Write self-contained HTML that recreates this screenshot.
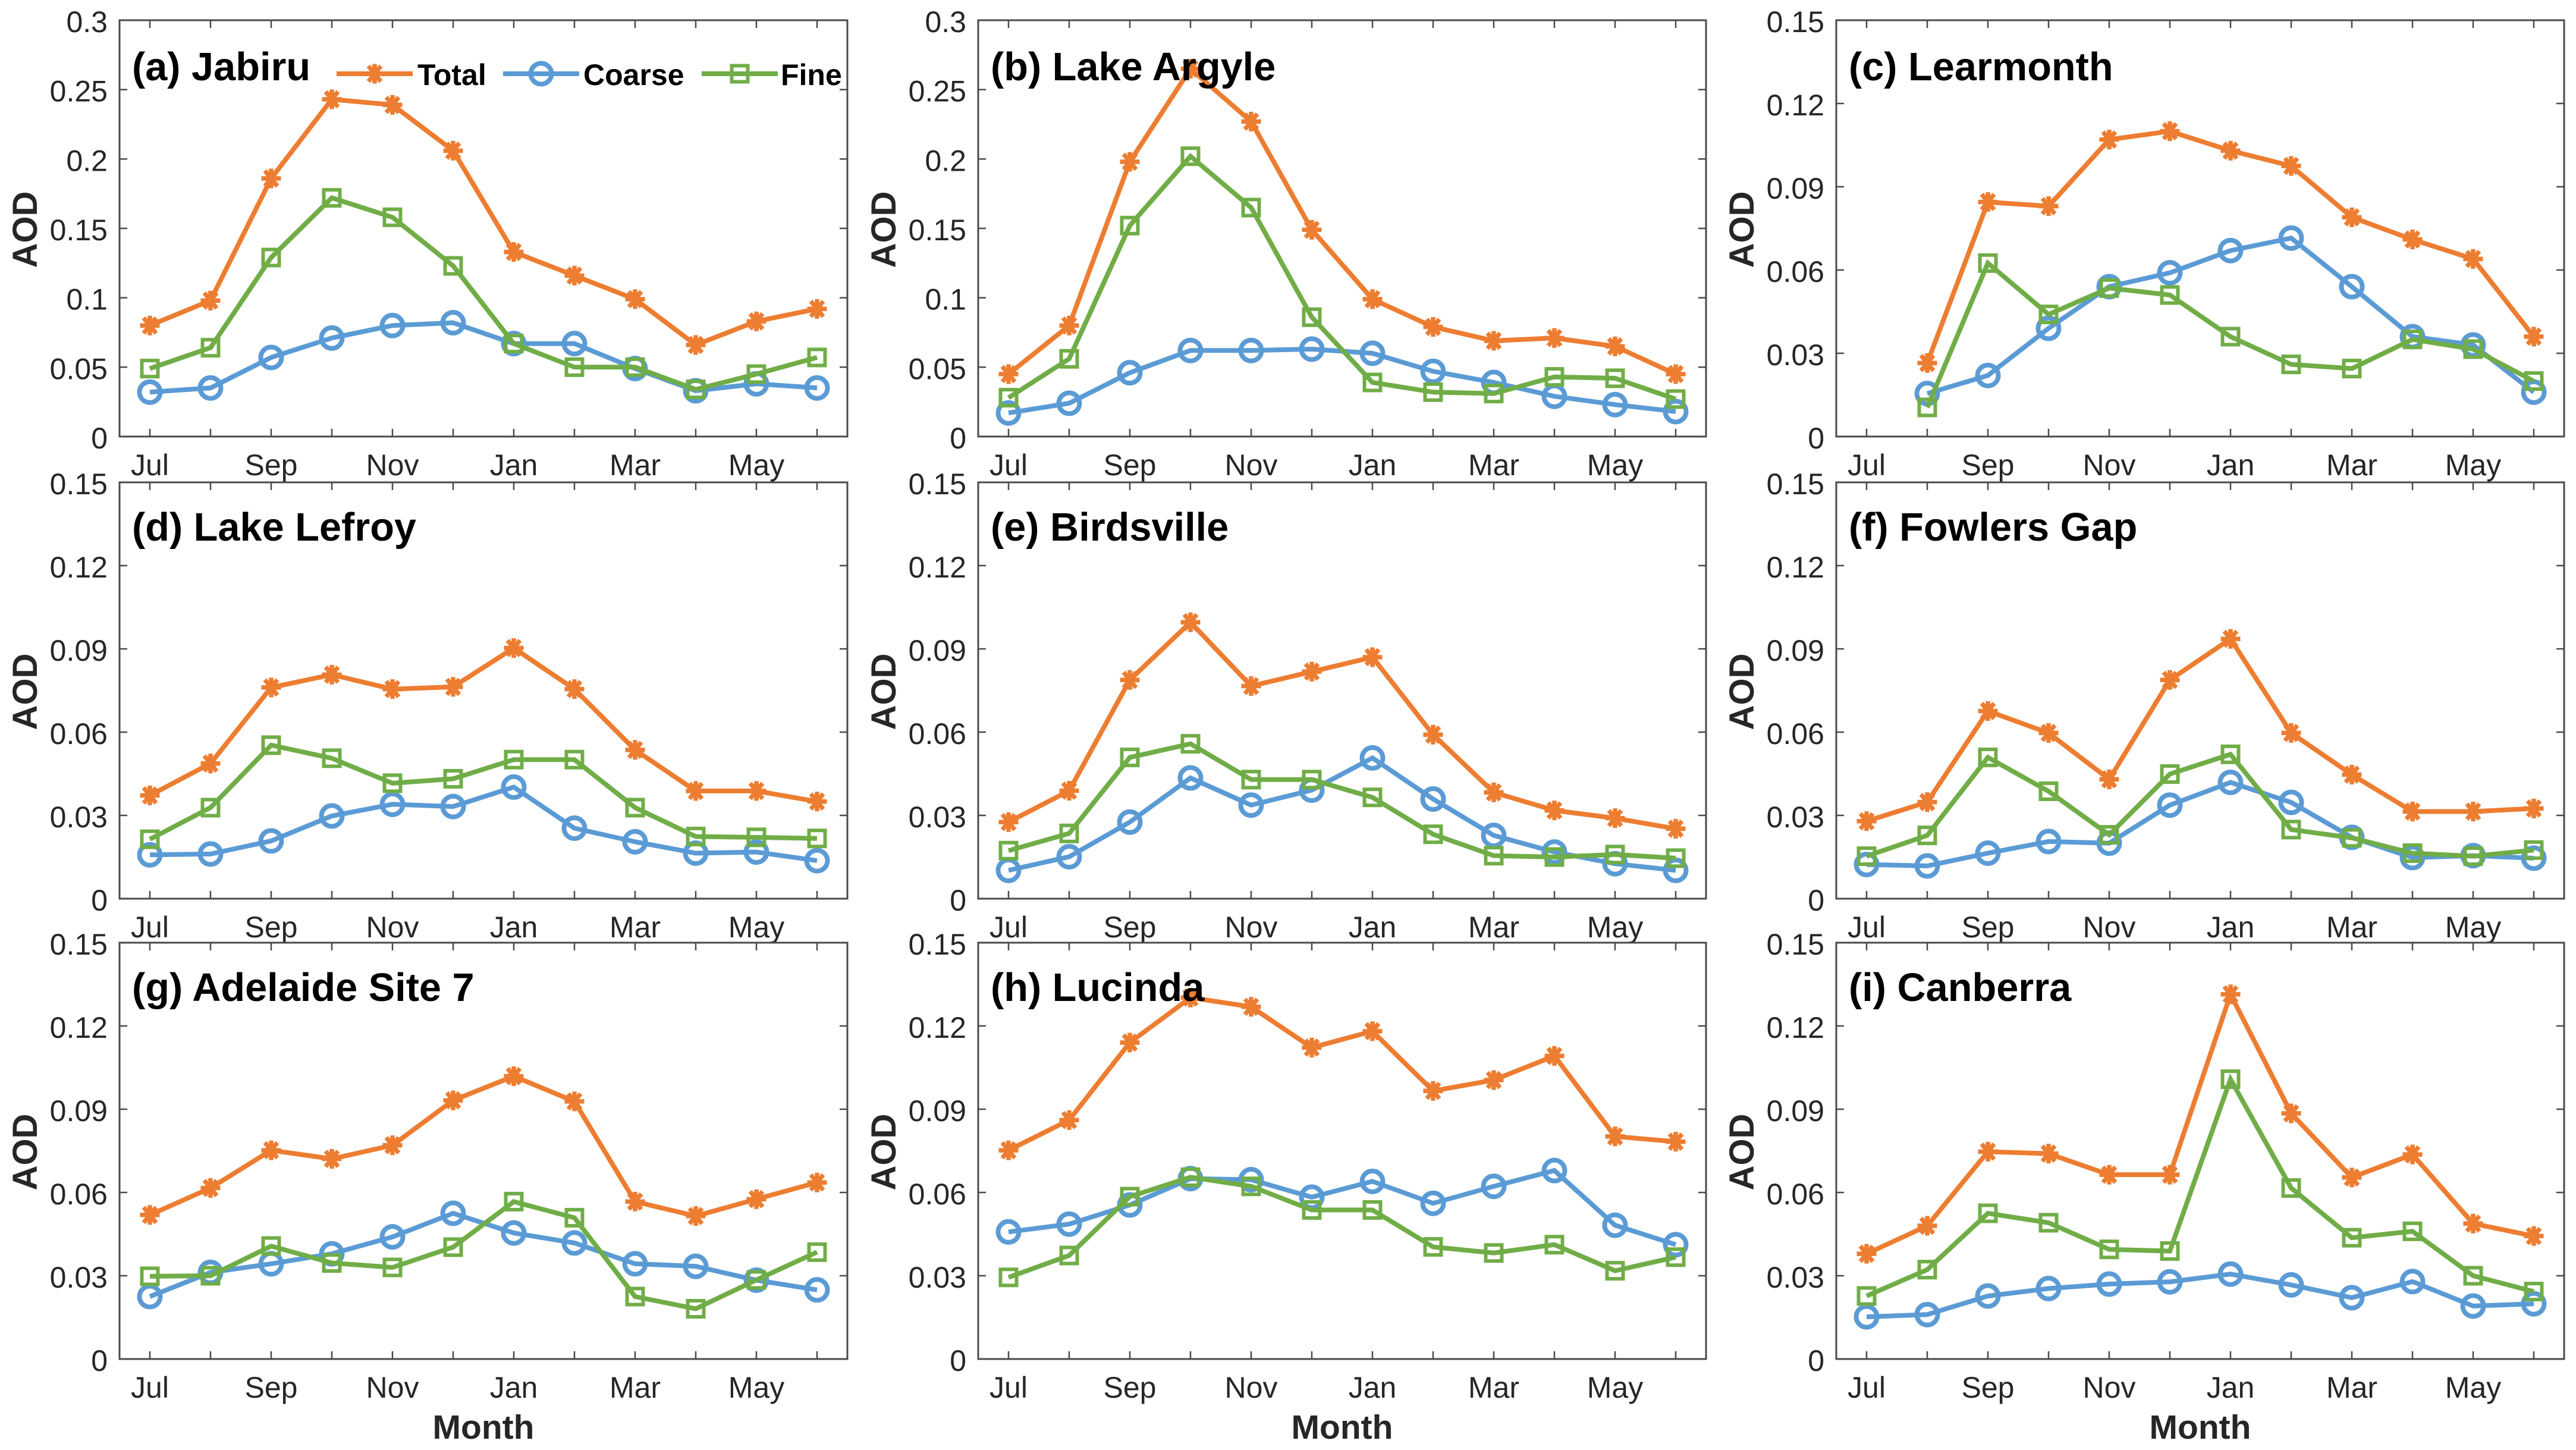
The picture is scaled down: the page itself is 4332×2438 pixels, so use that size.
<!DOCTYPE html>
<html lang="en">
<head>
<meta charset="utf-8">
<title>Monthly AOD at nine Australian sites</title>
<style>
html,body{margin:0;padding:0;background:#fff;}
svg{display:block;}
text{font-family:"Liberation Sans",Arial,sans-serif;}
</style>
</head>
<body>
<svg id="figure" xmlns="http://www.w3.org/2000/svg" width="4332" height="2438" viewBox="0 0 4332 2438">
<rect x="0" y="0" width="4332" height="2438" fill="#ffffff"/>
</svg>
<script>
var months = ['Jul','Aug','Sep','Oct','Nov','Dec','Jan','Feb','Mar','Apr','May','Jun'];
var monthLabels = ['Jul','','Sep','','Nov','','Jan','','Mar','','May',''];
var ticksWide = [0,0.05,0.1,0.15,0.2,0.25,0.3];
var tickLabelsWide = ['0','0.05','0.1','0.15','0.2','0.25','0.3'];
var ticksNarrow = [0,0.03,0.06,0.09,0.12,0.15];
var tickLabelsNarrow = ['0','0.03','0.06','0.09','0.12','0.15'];

var jabiruTotal = [.080,.098,.186,.243,.239,.206,.133,.116,.099,.066,.083,.092];
var jabiruCoarse = [.032,.035,.057,.071,.080,.082,.067,.067,.049,.033,.038,.035];
var jabiruFine = [.049,.064,.129,.172,.158,.123,.067,.050,.050,.034,.045,.057];

var argyleTotal = [.045,.080,.198,.265,.227,.149,.099,.079,.069,.071,.065,.045];
var argyleCoarse = [.017,.024,.046,.062,.062,.063,.060,.047,.039,.029,.023,.018];
var argyleFine = [.028,.056,.152,.202,.165,.086,.039,.032,.031,.043,.042,.027];

var learmonthTotal = [null,.0265,.0845,.083,.107,.110,.103,.0975,.079,.071,.064,.036];
var learmonthCoarse = [null,.0155,.022,.039,.054,.059,.067,.0715,.054,.036,.033,.016];
var learmonthFine = [null,.0105,.0625,.044,.0535,.051,.036,.026,.0245,.035,.0315,.020];

var lefroyTotal = [.0372,.0487,.0761,.0807,.0755,.0763,.0903,.0755,.0536,.0388,.0388,.035];
var lefroyCoarse = [.0158,.0161,.0208,.0298,.034,.0332,.0402,.0254,.0205,.0164,.0168,.0137];
var lefroyFine = [.0214,.0328,.0553,.0506,.0416,.0432,.0501,.0501,.0328,.0224,.0221,.0217];

var birdsvilleTotal = [.0276,.0389,.0788,.0996,.0766,.0818,.087,.0591,.0383,.0318,.029,.0252];
var birdsvilleCoarse = [.0102,.0151,.0276,.0435,.0337,.0391,.0507,.0359,.0228,.0168,.0126,.0102];
var birdsvilleFine = [.0173,.0235,.0509,.0558,.0429,.0429,.0365,.0232,.0155,.015,.0159,.0146];

var fowlersTotal = [.0279,.0348,.0676,.0597,.043,.0788,.0936,.0597,.0447,.0314,.0314,.0325];
var fowlersCoarse = [.0123,.0118,.0164,.0206,.02,.0337,.0419,.0347,.0221,.0148,.0155,.0146];
var fowlersFine = [.0153,.0228,.0509,.0387,.023,.0449,.052,.0249,.0219,.0164,.0153,.0175];

var adelaideTotal = [.0519,.0616,.0752,.0721,.077,.0932,.1019,.0928,.0567,.0515,.0576,.0636];
var adelaideCoarse = [.0225,.0312,.0343,.0379,.044,.0525,.0454,.0418,.0343,.0334,.0284,.0249];
var adelaideFine = [.0298,.03,.0407,.0346,.033,.0403,.0567,.0509,.0225,.0181,.0285,.0385];

var lucindaTotal = [.0752,.0861,.114,.1302,.1269,.1122,.1181,.0966,.1005,.1092,.0802,.0783];
var lucindaCoarse = [.0458,.0486,.0555,.065,.0646,.0583,.064,.0561,.0622,.0679,.0482,.0412];
var lucindaFine = [.0294,.0373,.0585,.0655,.0622,.0537,.0537,.0404,.0382,.0412,.0318,.0367];

var canberraTotal = [.0379,.048,.0747,.074,.0664,.0664,.1314,.0885,.0654,.0737,.0488,.0443];
var canberraCoarse = [.0152,.016,.0227,.0254,.027,.0278,.0306,.0267,.0221,.0279,.0191,.0199];
var canberraFine = [.0227,.0322,.0525,.0491,.0395,.0389,.1008,.0616,.0437,.046,.03,.0243];

var panelTitles = ['(a) Jabiru','(b) Lake Argyle','(c) Learmonth','(d) Lake Lefroy','(e) Birdsville','(f) Fowlers Gap','(g) Adelaide Site 7','(h) Lucinda','(i) Canberra'];
var panelKeys = ['jabiru','lake-argyle','learmonth','lake-lefroy','birdsville','fowlers-gap','adelaide-site-7','lucinda','canberra'];
var totals = [jabiruTotal,argyleTotal,learmonthTotal,lefroyTotal,birdsvilleTotal,fowlersTotal,adelaideTotal,lucindaTotal,canberraTotal];
var coarses = [jabiruCoarse,argyleCoarse,learmonthCoarse,lefroyCoarse,birdsvilleCoarse,fowlersCoarse,adelaideCoarse,lucindaCoarse,canberraCoarse];
var fines = [jabiruFine,argyleFine,learmonthFine,lefroyFine,birdsvilleFine,fowlersFine,adelaideFine,lucindaFine,canberraFine];
var panelYMax = [0.3,0.3,0.15,0.15,0.15,0.15,0.15,0.15,0.15];

var SVGNS = 'http://www.w3.org/2000/svg';
var root = document.getElementById('figure');
var AXIS_COLOR = '#4a4a4a', TEXT_COLOR = '#262626';
var ORANGE = '#ED7D31', BLUE = '#5B9BD5', GREEN = '#70AD47';
var colLeft = [201,1645,3088];
var rowTop = [34,811,1585];
var rowTitleY = [135,909,1683];
var AX_W = 1224, AX_H = 700, TICK = 13;

function make(tag, attrs, parent){
  var n = document.createElementNS(SVGNS, tag);
  for (var k in attrs) n.setAttribute(k, attrs[k]);
  parent.appendChild(n);
  return n;
}
function drawStar(parent, cx, cy, color){
  var g = make('g', {transform:'translate('+cx+' '+cy+')', stroke:color, 'stroke-width':7.5, fill:'none'}, parent);
  
  
  make('line', {x1:-16.5,y1:0,x2:16.5,y2:0}, g);
  make('line', {x1:0,y1:-16.5,x2:0,y2:16.5}, g);
  make('line', {x1:-10.5,y1:-13,x2:10.5,y2:13}, g);
  make('line', {x1:-10.5,y1:13,x2:10.5,y2:-13}, g);
}
function drawCircle(parent, cx, cy, color){
  var c = make('circle', {cx:cx, cy:cy, r:17.5, fill:'none', stroke:color, 'stroke-width':8}, parent);
  
  
}
function drawSquare(parent, cx, cy, color){
  var r = make('rect', {x:cx-13.5, y:cy-13.5, width:27, height:27, fill:'none', stroke:color, 'stroke-width':6}, parent);
  
  
}
function drawSeries(parent, values, xFn, yFn, color, marker, name){
  var g = make('g', {}, parent);
  
  
  var d = '', pen = false;
  values.forEach(function(v, i){
    if (v === null) { pen = false; return; }
    d += (pen ? 'L' : 'M') + xFn(i).toFixed(1) + ' ' + yFn(v).toFixed(1);
    pen = true;
  });
  var line = make('path', {d:d, fill:'none', stroke:color, 'stroke-width':8, 'stroke-linejoin':'miter'}, g);
  
  
  values.forEach(function(v, i){
    if (v !== null) marker(g, xFn(i), yFn(v), color);
  });
}

panelTitles.forEach(function(title, p){
  var L = colLeft[p % 3], T = rowTop[Math.floor(p / 3)], R = L + AX_W, B = T + AX_H;
  var yMax = panelYMax[p];
  var yVals = yMax > 0.2 ? ticksWide : ticksNarrow;
  var yLabs = yMax > 0.2 ? tickLabelsWide : tickLabelsNarrow;
  function xFn(i){ return L + (i + 0.5) * AX_W / months.length; }
  function yFn(v){ return B - v / yMax * AX_H; }

  var panel = make('g', {}, root);
  
  

  var ticks = make('g', {stroke:AXIS_COLOR, 'stroke-width':2.5}, panel);
  
  
  months.forEach(function(m, i){
    var x = xFn(i);
    make('line', {x1:x, y1:B, x2:x, y2:B - TICK}, ticks);
    make('line', {x1:x, y1:T, x2:x, y2:T + TICK}, ticks);
    if (monthLabels[i]) {
      var t = make('text', {x:x, y:B + 65, 'font-size':50, fill:TEXT_COLOR, 'text-anchor':'middle'}, panel);
      
      
      t.textContent = monthLabels[i];
    }
  });
  yVals.forEach(function(v, i){
    var y = yFn(v);
    make('line', {x1:L, y1:y, x2:L + TICK, y2:y}, ticks);
    make('line', {x1:R, y1:y, x2:R - TICK, y2:y}, ticks);
    var t = make('text', {x:L - 20, y:y + 20, 'font-size':50, fill:TEXT_COLOR, 'text-anchor':'end'}, panel);
    
    
    t.textContent = yLabs[i];
  });

  drawSeries(panel, totals[p], xFn, yFn, ORANGE, drawStar, 'total');
  drawSeries(panel, coarses[p], xFn, yFn, BLUE, drawCircle, 'coarse');
  drawSeries(panel, fines[p], xFn, yFn, GREEN, drawSquare, 'fine');

  var frame = make('rect', {x:L, y:T, width:AX_W, height:AX_H, fill:'none', stroke:AXIS_COLOR, 'stroke-width':3}, panel);
  
  

  var yTitle = make('text', {transform:'translate(' + (L - 139) + ' ' + (T + AX_H / 2 + 2) + ') rotate(-90)', 'font-size':58, 'font-weight':'bold', fill:TEXT_COLOR, 'text-anchor':'middle'}, panel);
  
  
  yTitle.textContent = 'AOD';

  if (p >= 6) {
    var xTitle = make('text', {x:L + AX_W / 2, y:2419, 'font-size':57, 'font-weight':'bold', fill:TEXT_COLOR, 'text-anchor':'middle'}, panel);
    
    
    xTitle.textContent = 'Month';
  }

  var heading = make('text', {x:L + 21, y:rowTitleY[Math.floor(p / 3)], 'font-size':66.7, 'font-weight':'bold', fill:'#000000'}, panel);
  
  
  heading.textContent = title;
});

var legend = make('g', {}, root);


var legendY = 124, legendBase = 143;
var legendNames = ['Total','Coarse','Fine'];
var legendColors = [ORANGE,BLUE,GREEN];
var legendMarkers = [drawStar,drawCircle,drawSquare];
var legendLineX = [566,846,1180];
var legendTextX = [702,981,1313];
legendNames.forEach(function(name, i){
  var entry = make('g', {}, legend);
  
  
  var x0 = legendLineX[i];
  var ln = make('line', {x1:x0, y1:legendY, x2:x0 + 128, y2:legendY, stroke:legendColors[i], 'stroke-width':8}, entry);
  
  
  legendMarkers[i](entry, x0 + 64, legendY, legendColors[i]);
  var t = make('text', {x:legendTextX[i], y:legendBase, 'font-size':50, 'font-weight':'bold', fill:'#000000'}, entry);
  
  
  t.textContent = name;
});
</script>
</body>
</html>
